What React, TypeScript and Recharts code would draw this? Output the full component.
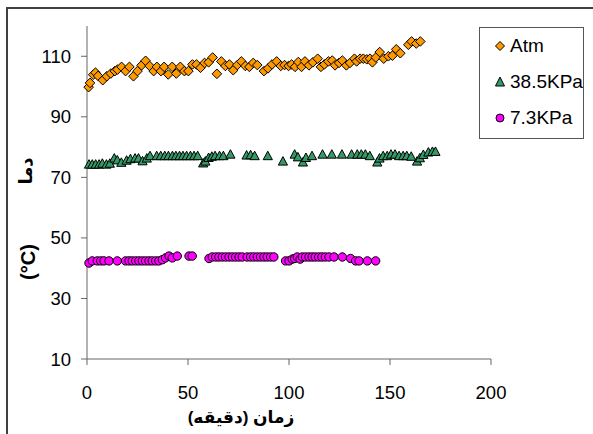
import React from 'react';
import { ScatterChart, Scatter, XAxis, YAxis, Legend } from 'recharts';

// زمان (دقیقه) و دما برای سه فشار
const atmTime = [0.8, 1.5, 3.1, 4.2, 5.5, 7.8, 9.8, 11.8, 13.8, 15.1, 17.1, 19.1, 21, 23, 25, 27, 29, 31, 33, 34.6, 36.6, 38.2, 40.2, 42.2, 44.2, 46.2, 48.2, 50.2, 52.2, 54.2, 56.2, 58.2, 60.2, 62.2, 64.3, 66.5, 68.5, 70.5, 72.4, 74.4, 76.4, 78.4, 80.4, 82.3, 84.3, 87.6, 89.6, 91.6, 93.9, 95.9, 97.8, 99.8, 101.3, 103, 104.6, 106.2, 107.9, 109.9, 111.8, 114.2, 115.8, 117.5, 119.5, 121.4, 122.8, 124.8, 126.4, 128.4, 130.2, 132.4, 133.5, 135.2, 136.8, 138.5, 140.1, 141.3, 143, 144.9, 146.9, 149.2, 151.2, 153.1, 155.1, 159.1, 160.7, 163, 165];
const atmTemp = [99.8, 101.2, 103.9, 104.6, 103.5, 102.1, 103.4, 104.3, 105.1, 105.6, 106.5, 105.1, 106.5, 103.4, 105.1, 107, 108.5, 106.8, 105.1, 106.5, 105.1, 106.5, 104, 106.5, 104.3, 106.5, 105.1, 105.1, 107.3, 107.3, 106.2, 107.8, 108, 109.6, 104.2, 108.3, 106.8, 107.3, 105.4, 107.1, 108.3, 106.8, 106.5, 107.8, 107.1, 105.1, 106, 107.3, 108.3, 106.8, 107.1, 106.8, 107.3, 106.5, 108.1, 106.5, 108.3, 107, 108, 109.2, 106.5, 107.3, 108.3, 108.6, 107, 107.8, 108.6, 107, 107.8, 109.2, 108.3, 109.2, 109.2, 109, 109.2, 108, 109.6, 111.4, 109.2, 110, 110.2, 112.3, 111, 113.8, 114.9, 114.2, 114.9];

const kpa38Time = [1, 2.6, 4.3, 6, 7.6, 9.6, 11.3, 13.5, 15, 17, 19.6, 21.5, 23.8, 25.5, 27.5, 29.6, 31.2, 34.5, 36.5, 38.5, 40.3, 42.3, 44, 45.8, 47.5, 49.3, 51.2, 53, 54.8, 57.5, 58.6, 60.2, 61.8, 63.4, 65.6, 67.5, 71, 79, 81, 83, 89.5, 97, 102.8, 104.4, 106.9, 108.4, 111.4, 116.6, 121.2, 126.2, 131, 133.8, 135.8, 137.8, 140, 143.7, 144.8, 146.6, 148.6, 150.5, 152.5, 154.5, 156.5, 158.3, 160.5, 163.4, 164.8, 166.5, 169, 171, 172.5];
const kpa38Temp = [74.2, 74.2, 74.2, 74.2, 74.5, 74.2, 74.5, 76.2, 75.6, 74.8, 75.5, 76, 76.2, 76.2, 75.3, 76.2, 77, 77, 77, 77, 77, 77, 77, 77, 77, 77, 77, 77, 77, 74.6, 75.2, 76.4, 76.8, 77, 77, 77, 77.5, 77.2, 77.3, 77, 77, 75.2, 77.5, 76.6, 74.9, 76.4, 77, 77.5, 77.5, 77.5, 77.5, 77.5, 77.5, 77.5, 77, 74.9, 76.2, 77, 77, 77.5, 77.5, 77, 77, 77, 76.8, 75.2, 76.3, 77.4, 78.2, 78.4, 78.4];

const kpa7Time = [1, 2.6, 5.1, 6.8, 8.4, 10.9, 15, 19.1, 20.8, 22.4, 24.1, 25.7, 27.4, 29, 30.7, 32.3, 34, 35.6, 37.3, 38.9, 40.6, 42.2, 44.7, 50.5, 52.1, 60.4, 62, 63.7, 65.3, 67, 68.6, 70.3, 72, 73.6, 75.3, 76.9, 79.3, 81, 82.6, 84.3, 85.9, 87.6, 89.2, 90.9, 92.5, 98.3, 100, 101.6, 102.8, 104.1, 105.5, 106.6, 108.2, 109.9, 111.5, 113, 114.7, 116.3, 118, 119.8, 122.3, 126.4, 130.5, 133, 134.7, 138.8, 142.9];
const kpa7Temp = [41.7, 42.4, 42.4, 42.4, 42.4, 42.4, 42.4, 42.4, 42.4, 42.4, 42.4, 42.4, 42.4, 42.4, 42.4, 42.4, 42.4, 42.4, 42.8, 43.4, 44, 43.4, 44, 44, 44, 43.2, 43.7, 43.7, 43.7, 43.7, 43.7, 43.7, 43.7, 43.7, 43.7, 43.7, 43.7, 43.7, 43.7, 43.7, 43.7, 43.7, 43.7, 43.7, 43.7, 42.4, 42.4, 43, 43.2, 43.7, 43, 43.7, 43.7, 43.7, 43.7, 43.7, 43.7, 43.7, 43.7, 43.7, 43.7, 43.7, 43.2, 42.4, 42.4, 42.4, 42.4];

const seriesNames = ['Atm', '38.5KPa', '7.3KPa'];
const xTicks = [0, 50, 100, 150, 200];
const yTicks = [10, 30, 50, 70, 90, 110];

const toPoints = (t: number[], v: number[]) => t.map((x, i) => ({ t: x, v: v[i] }));

const ORANGE = '#FF9900';
const GREEN = '#339966';
const MAGENTA = '#FF00FF';
const FONT = '"Liberation Sans", Arial, "DejaVu Sans", sans-serif';

const Diamond = ({ cx, cy }: any) => (
  <polygon points={`${cx},${cy - 4.8} ${cx + 4.8},${cy} ${cx},${cy + 4.8} ${cx - 4.8},${cy}`} fill={ORANGE} stroke="#000" strokeWidth={1} />
);
const Triangle = ({ cx, cy }: any) => (
  <polygon points={`${cx},${cy - 5} ${cx + 4.6},${cy + 3.5} ${cx - 4.6},${cy + 3.5}`} fill={GREEN} stroke="#000" strokeWidth={1} />
);
const Dot = ({ cx, cy }: any) => <circle cx={cx} cy={cy} r={4.2} fill={MAGENTA} stroke="#000" strokeWidth={1} />;

const icons = [
  <polygon key="d" points="7,2.5 11.5,7 7,11.5 2.5,7" fill={ORANGE} stroke="#000" strokeWidth={1} />,
  <polygon key="t" points="7,2 11.5,11 2.5,11" fill={GREEN} stroke="#000" strokeWidth={1} />,
  <circle key="c" cx={7} cy={7} r={4} fill={MAGENTA} stroke="#000" strokeWidth={1} />,
];

const renderLegend = () => (
  <div style={{ position: 'relative', width: 103, height: 110, border: '1px solid #555', background: '#fff', fontFamily: FONT, fontSize: 19, color: '#000' }}>
    {seriesNames.map((name, i) => (
      <div key={name} style={{ position: 'absolute', left: 13, top: 7 + i * 36, height: 22, display: 'flex', alignItems: 'center', whiteSpace: 'nowrap' }}>
        <svg width={14} height={14} style={{ marginRight: 3 }}>{icons[i]}</svg>
        <span>{name}</span>
      </div>
    ))}
  </div>
);

const XTitle = () => (
  <text x={241} y={423} textAnchor="middle" direction="rtl" fontFamily={FONT} fontWeight="bold" fontSize={17} fill="#000">
    زمان (دقيقه)
  </text>
);

const YTitle = () => (
  <g fontFamily={FONT} fontWeight="bold" fill="#000">
    <text x={0} y={0} transform="translate(32,171) rotate(-90)" textAnchor="middle" fontSize={18}>دما</text>
    <text x={0} y={0} transform="translate(35,262) rotate(-90)" textAnchor="middle" fontSize={20}>(°C)</text>
  </g>
);

export default function App() {
  return (
    <div style={{ position: 'absolute', left: 0, top: 0, width: 593, height: 434, overflow: 'hidden', background: '#fff' }}>
      <div style={{ position: 'absolute', left: 6, top: 7, width: 700, height: 600, border: '2px solid #404040' }} />
      <div style={{ position: 'absolute', left: 0, top: 0 }}>
        <ScatterChart width={593} height={434} margin={{ top: 26, right: 102, bottom: 0, left: 0 }}>
          <XAxis
            type="number"
            dataKey="t"
            domain={[0, 200]}
            ticks={xTicks}
            tickSize={6}
            tickMargin={21}
            height={75}
            stroke="#666"
            tick={{ fill: '#000', fontSize: 18.5, fontFamily: FONT }}
            label={<XTitle />}
          />
          <YAxis
            type="number"
            dataKey="v"
            domain={[10, 120]}
            ticks={yTicks}
            tickSize={6}
            tickMargin={10}
            width={87}
            stroke="#666"
            tick={{ fill: '#000', fontSize: 18.5, fontFamily: FONT }}
            label={<YTitle />}
          />
          <Legend
            content={renderLegend}
            layout="vertical"
            align="center"
            verticalAlign="middle"
            wrapperStyle={{ left: 479, top: 27, width: 105, height: 112 }}
          />
          <Scatter name={seriesNames[0]} data={toPoints(atmTime, atmTemp)} shape={Diamond} isAnimationActive={false} />
          <Scatter name={seriesNames[1]} data={toPoints(kpa38Time, kpa38Temp)} shape={Triangle} isAnimationActive={false} />
          <Scatter name={seriesNames[2]} data={toPoints(kpa7Time, kpa7Temp)} shape={Dot} isAnimationActive={false} />
        </ScatterChart>
      </div>
    </div>
  );
}
